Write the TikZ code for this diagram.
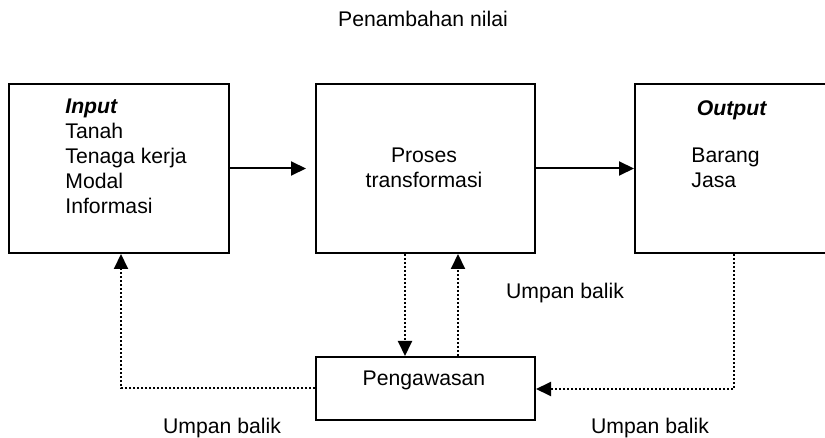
\documentclass[tikz,border=0pt]{standalone}
\usepackage{fontspec}
\setmainfont{Liberation Sans}
\usetikzlibrary{arrows.meta}

\tikzset{
	box/.style={draw, line width=1pt, inner sep=0pt, minimum width=109.5pt, minimum height=84.5pt, anchor=north west},
	txt/.style={inner sep=0pt, font=\fontsize{10.6}{12.5}\selectfont},
	flow/.style={line width=1pt, -{Triangle[length=7.5pt,width=7pt]}},
	fb/.style={line width=1pt, densely dotted, -{Triangle[length=7.5pt,width=7pt]}}
}

\begin{document}
\begin{tikzpicture}[x=0.5pt,y=-0.5pt]
\clip (0,0) rectangle (825,438);
\node[txt, anchor=base] (judul) at (423,27) {Penambahan nilai};
		% boxes
		\node[box, minimum width=110pt] (input) at (8,83) {};
		\node[box] (proses) at (315,83) {};
		\node[box] (output) at (634,83) {};
		\node[box, minimum height=31.5pt] (awas) at (315,356) {};
		% texts in boxes
		\node[txt, anchor=north west, align=left] (inputtxt) at (65,99) {\textbf{\textit{Input}}\\Tanah\\Tenaga kerja\\Modal\\Informasi};
		\node[txt, anchor=north, align=center] (prosestxt) at (424,148) {Proses\\transformasi};
		\node[txt, anchor=north] (outputhead) at (732,100) {\textbf{\textit{Output}}};
		\node[txt, anchor=north west, align=left] (outputtxt) at (691,148) {Barang\\Jasa};
		\node[txt, anchor=base] (awastxt) at (424,386) {Pengawasan};
\draw[flow, shorten >=4.5pt] (input.east) -- (proses.west);
\draw[flow] (proses.east) -- (output.west);
		% feedback lines
		\coordinate (fbkiri) at (121,388);
		\coordinate (fbkanan) at (734,389);
		\coordinate (turun) at (405,0);
		\coordinate (naik) at (458,0);
		\draw[fb] (awas.west |- fbkiri) -- (fbkiri) -- (fbkiri |- input.south);
		\draw[fb] (proses.south -| turun) -- (awas.north -| turun);
		\draw[fb] (awas.north -| naik) -- (proses.south -| naik);
		\draw[fb] (output.south -| fbkanan) -- (fbkanan) -- (awas.east |- fbkanan);
\node[txt, anchor=base] (umpan1) at (565,299) {Umpan balik};
\node[txt, anchor=base] (umpan2) at (222,433) {Umpan balik};
\node[txt, anchor=base] (umpan3) at (650,433) {Umpan balik};
\end{tikzpicture}
\end{document}
